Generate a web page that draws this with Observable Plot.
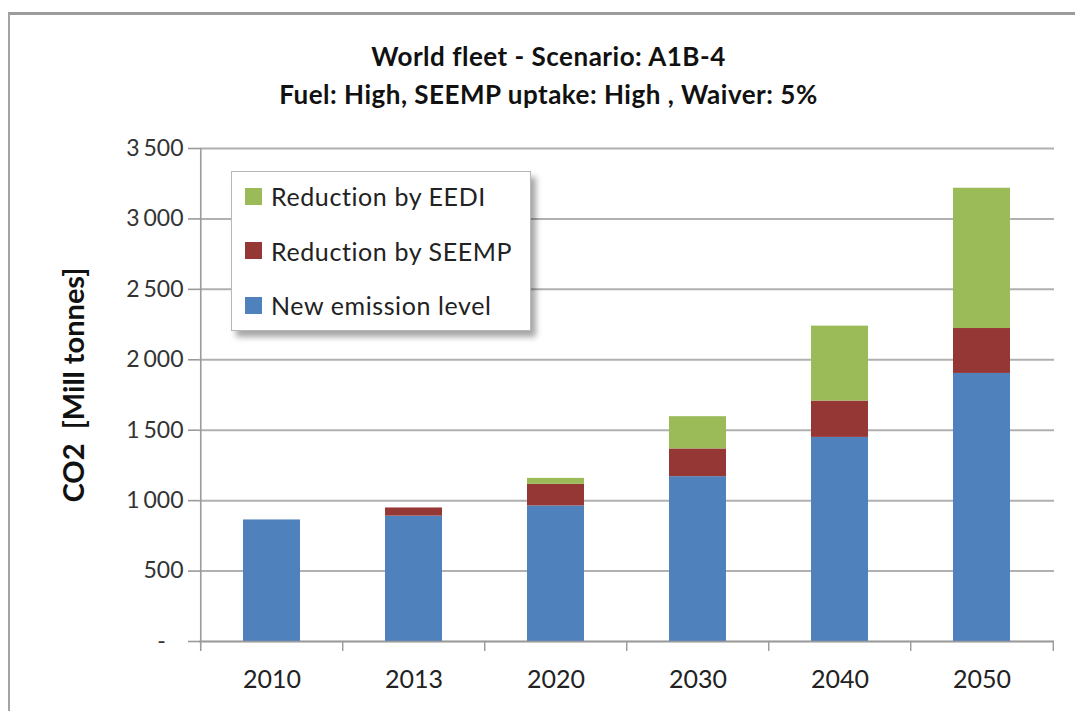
<!DOCTYPE html>
<html>
<head>
<meta charset="utf-8">
<script src="https://cdn.jsdelivr.net/npm/d3@7"></script>
<script src="https://cdn.jsdelivr.net/npm/@observablehq/plot@0.6"></script>
<style>
  html, body { margin: 0; padding: 0; background: #fff; }
  #wrap { position: relative; width: 1075px; height: 711px; overflow: hidden; font-family: Lato, "Open Sans", sans-serif; color: #222; }
  #frame { position: absolute; left: 8px; top: 12px; width: 1100px; height: 740px; border-top: 3px solid #9c9c9c; border-left: 2px solid #a4a4a4; box-sizing: border-box; }
  #title { position: relative; height: 110px; box-sizing: border-box; padding-top: 37px; text-align: center; font-weight: bold; font-size: 26px; letter-spacing: 0.5px; line-height: 38px; padding-left: 22px; color: #111; }
  #chart { position: relative; }
  #legend { position: absolute; left: 231px; top: 171px; width: 300px; height: 160px; box-sizing: border-box; background: #fff; border: 1px solid #b8b8b8; box-shadow: 5px 6px 6px rgba(0,0,0,0.35); padding-top: 0; }
  .item { display: flex; align-items: center; height: 54.5px; padding-left: 13px; font-size: 25px; letter-spacing: 0.6px; }
  .item:first-child { margin-top: -3px; }
  .sw { width: 17px; height: 17px; margin-right: 9px; flex: none; }
</style>
</head>
<body>
<div id="wrap">
  <div id="frame"></div>
  <div id="title"></div>
  <div id="chart"></div>
  <div id="legend"></div>
</div>
<script>
const titleLines = ["World fleet - Scenario: A1B-4", "Fuel: High, SEEMP uptake: High , Waiver: 5%"];
const yTitle = "CO2  [Mill tonnes]";
const years = ["2010", "2013", "2020", "2030", "2040", "2050"];
const series = ["New emission level", "Reduction by SEEMP", "Reduction by EEDI"];
const newEmission = [863, 890, 962, 1170, 1449, 1903];
const reductionSEEMP = [0, 58, 154, 197, 258, 319];
const reductionEEDI = [0, 0, 42, 229, 532, 996];
const yTicks = [0, 500, 1000, 1500, 2000, 2500, 3000, 3500];
const colors = ["#4F81BD", "#953735", "#9BBB59"];

const seriesValues = [newEmission, reductionSEEMP, reductionEEDI];
const data = years.flatMap((year, i) =>
  series.map((s, k) => ({year, series: s, value: seriesValues[k][i]}))
);

document.getElementById("title").innerHTML = titleLines.map(t => `<div>${t}</div>`).join("");

const W = 1075, H = 601, mL = 199, mR = 21, mT = 38, mB = 70;
const step = (W - mL - mR) / years.length;
const axisGray = "#9a9a9a";
const gridGray = "#b0b0b0";
const fmt = d => d === 0 ? "-\u00a0\u00a0\u00a0" : d3.format(",")(d).replace(",", "\u2006");

const chart = Plot.plot({
  width: W, height: H,
  marginLeft: mL, marginRight: mR, marginTop: mT, marginBottom: mB,
  style: {fontFamily: "Lato, 'Open Sans', sans-serif", fontSize: "25px", color: "#222", background: "transparent", overflow: "visible"},
  x: {domain: years, paddingInner: 0.6, paddingOuter: 0.3, label: null},
  y: {domain: [0, 3500], label: null},
  color: {domain: series, range: colors},
  marks: [
    Plot.gridY(yTicks, {stroke: gridGray, strokeOpacity: 1, strokeWidth: 2}),
    Plot.barY(data, {x: "year", y: "value", fill: "series"}),
    Plot.ruleY([0], {stroke: axisGray, strokeWidth: 1.6}),
    Plot.ruleX([years[0]], {dx: -step / 2, stroke: axisGray, strokeWidth: 1.6, insetBottom: -10}),
    Plot.ruleX(years.slice(1), {dx: -step / 2, y1: 0, y2: 0, insetBottom: -10, stroke: axisGray, strokeWidth: 1.4}),
    Plot.ruleX([years[years.length - 1]], {dx: step / 2, y1: 0, y2: 0, insetBottom: -10, stroke: axisGray, strokeWidth: 1.4}),
    Plot.axisY(yTicks, {tickSize: 11, tickPadding: 5, tickFormat: fmt, stroke: axisGray, strokeWidth: 1.6, fill: "#333", fontSize: 23, label: null}),
    Plot.axisX({tickSize: 0, tickPadding: 29, fill: "#222", label: null}),
    Plot.text([yTitle], {frameAnchor: "left", rotate: -90, dx: -125, dy: -10, textAnchor: "middle", fontWeight: "bold", fontSize: 29, fill: "#111"})
  ]
});
document.getElementById("chart").appendChild(chart);

const legend = document.getElementById("legend");
series.map((s, k) => ({s, c: colors[k]})).reverse().forEach(({s, c}) => {
  const row = document.createElement("div");
  row.className = "item";
  row.innerHTML = `<span class="sw" style="background:${c}"></span><span>${s}</span>`;
  legend.appendChild(row);
});
</script>
</body>
</html>
